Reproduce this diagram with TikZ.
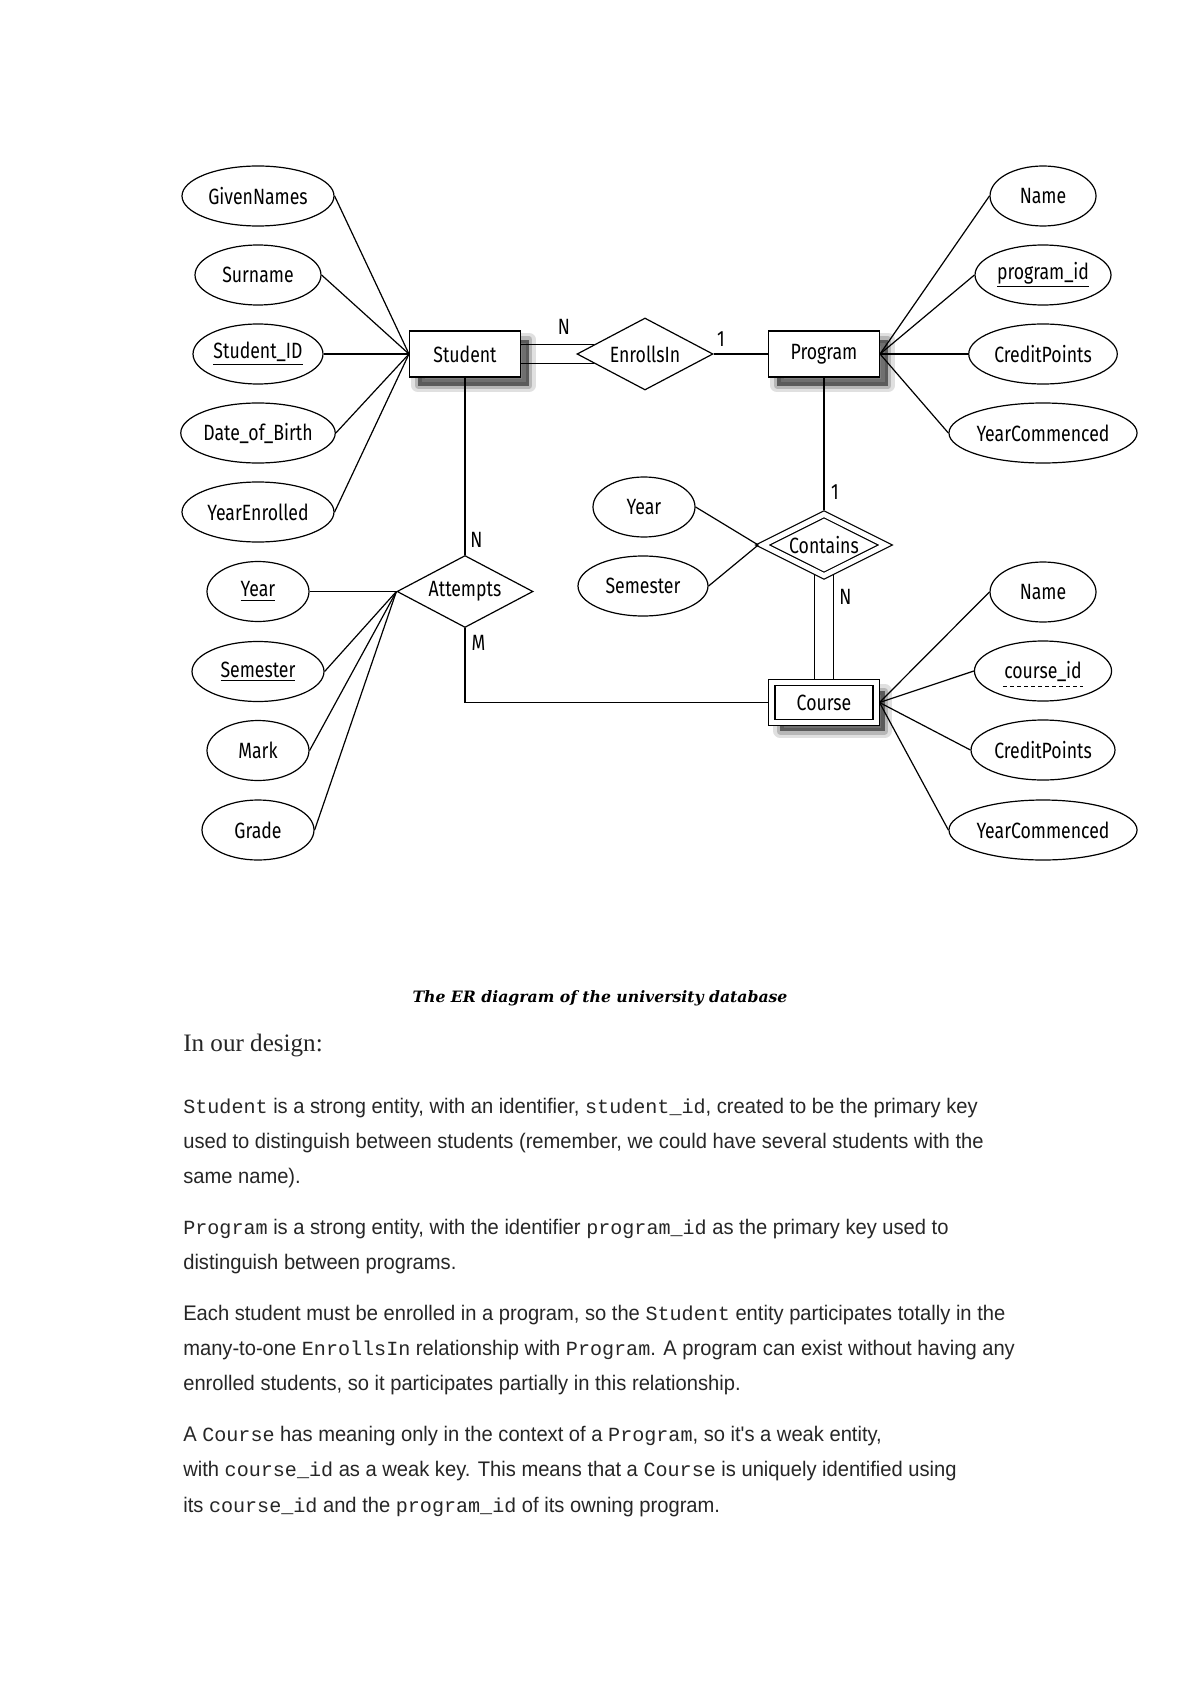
\documentclass[tikz,border=0pt]{standalone}
\usepackage{fontspec}
\usetikzlibrary{shapes.geometric,shadows,calc,positioning}
\newfontfamily\erfont[FakeStretch=0.8]{Fira Sans}
\newfontfamily\bodyfont[FakeStretch=0.955]{Liberation Sans}
\newfontfamily\codefont{Liberation Mono}
\newfontfamily\introfont{Liberation Serif}
\newfontfamily\capfont{DejaVu Serif}
\newcommand\code[1]{{\codefont\fontsize{10}{12}\selectfont #1}}
\newcommand\erfontsize{\erfont\fontsize{11}{13}\selectfont}
\tikzset
{
    erdshadow/.style = {drop shadow={shadow xshift=0.15cm, shadow yshift=-0.15cm, opacity=0.12, fill=black, draw=black, line width=0.24cm, line join=round},
                        drop shadow={shadow xshift=0.15cm, shadow yshift=-0.15cm, opacity=0.18, fill=black, draw=black, line width=0.12cm, line join=round},
                        drop shadow={shadow xshift=0.15cm, shadow yshift=-0.15cm, opacity=0.3, fill=black}},
    entity/.style     = {rectangle, draw, fill=white, minimum width=1.94cm, minimum height=0.805cm, inner sep=0pt, font=\erfontsize, erdshadow},
    weakentity/.style = {entity, double, double distance=2.6pt, minimum width=1.83cm, minimum height=0.70cm, outer sep=1.6pt},
    relation/.style   = {diamond, draw, fill=white, aspect=1.9, minimum width=2.38cm, minimum height=1.26cm, inner sep=0pt, font=\erfontsize},
    weakrelation/.style = {relation, double, double distance=2.5pt, minimum width=2.19cm, minimum height=1.12cm, outer sep=1.6pt},
    attr/.style       = {ellipse, draw, minimum width=#1, minimum height=1.05cm, inner sep=0pt, font=\erfontsize},
    card/.style       = {inner sep=0pt, font=\erfontsize},
    bodytext/.style   = {anchor=base west, inner sep=0pt, text=black!85, font=\bodyfont\fontsize{10.5}{12}\selectfont}
}

\begin{document}
\begin{tikzpicture}[x=0.0175cm, y=-0.0175cm, line width=0.6pt]
		\path[use as bounding box, fill=white] (0,0) rectangle (1200,1696);
		% entities and relationships
		\node (st)	[entity]				at (465,354)		{Student};
		\node (en)	[relation]			at (645,354)		{EnrollsIn};
		\node (pg)	[entity]				at (824,354)		{Program};
		\node (at)	[relation]			at (465,591.5)	{Attempts};
		\node (co)	[weakrelation]	at (824,545)		{Contains};
		\node (cr)	[weakentity]		at (824,702.5)	{Course};
		% attributes of Student and Attempts
		\node (gn)	[attr=2.66cm]		at (258,196)		{GivenNames};
		\node (sn)	[attr=2.205cm]	at (258,275)		{Surname};
		\node (sid)	[attr=2.275cm]	at (258,354)		{\underline{Student\_ID}};
		\node (dob)	[attr=2.66cm]		at (258,433)		{Date\_of\_Birth};
		\node (ye)	[attr=2.66cm]		at (258,512)		{YearEnrolled};
		\node (ayr)	[attr=1.785cm]	at (258,591.5)	{\underline{Year}};
		\node (asm)	[attr=2.31cm]		at (258,671.5)	{\underline{Semester}};
		\node (mk)	[attr=1.785cm]	at (258,750.5)	{Mark};
		\node (gr)	[attr=1.96cm]		at (258,830)		{Grade};
		% attributes of Program and Course
		\node (pn)	[attr=1.855cm]	at (1043,196)		{Name};
		\node (pid)	[attr=2.38cm]		at (1043,275)		{\underline{program\_id}};
		\node (pcp)	[attr=2.6cm]		at (1043,354)		{CreditPoints};
		\node (pyc)	[attr=3.08cm]		at (1043,433)		{YearCommenced};
		\node (cn)	[attr=1.855cm]	at (1043,592)		{Name};
		\node (cid)	[attr=2.4cm]		at (1043,671)		{course\_id};
		\node (ccp)	[attr=2.52cm]		at (1043,750)		{CreditPoints};
		\node (cyc)	[attr=3.08cm]		at (1043,830)		{YearCommenced};
		\draw[dash pattern=on 2pt off 1.5pt] ($(cid.center)+(-40,15.7)$) -- ($(cid.center)+(40,15.7)$);
		% attributes of Contains
		\node (yr)	[attr=1.785cm]	at (644,507)		{Year};
		\node (sm)	[attr=2.275cm]	at (643,586)		{Semester};
		% cardinalities
		\node (c1)	[card]	at (564,327)		{N};
		\node (c2)	[card]	at (721,339)		{1};
		\node (c3)	[card]	at (835,492)		{1};
		\node (c4)	[card]	at (845.5,596.5)	{N};
		\node (c5)	[card]	at (476.5,540)	{N};
		\node (c6)	[card]	at (478.5,643)	{M};

		\foreach \a in {gn,sn,sid,dob,ye}
			\draw (\a.east) -- (st.west);
		\foreach \a in {ayr,asm,mk,gr}
			\draw (\a.east) -- (at.west);
		\foreach \a in {pn,pid,pcp,pyc}
			\draw (\a.west) -- (pg.east);
		\foreach \a in {cn,cid,ccp,cyc}
			\draw (\a.west) -- (cr.east);
		\draw (yr.east) -- (co.west);
		\draw (sm.east) -- (co.west);

		% total participation, drawn as two lines
		\coordinate (en1) at ($(en.west)!0.25!(en.north)$);
		\coordinate (en2) at ($(en.west)!0.25!(en.south)$);
		\draw (st.east |- en1) -- (en1);
		\draw (st.east |- en2) -- (en2);
		\coordinate (co1) at ($(co.south)!0.14!(co.west)$);
		\coordinate (co2) at ($(co.south)!0.14!(co.east)$);
		\draw (co1) -- (co1 |- cr.north);
		\draw (co2) -- (co2 |- cr.north);
		\draw (en) -- (pg);
		\draw (st) -- (at);
		\draw (pg) -- (co);
		\draw (at.south) |- (cr.west);

		% caption and text
		\node (cap)		[anchor=base, inner sep=0pt, font=\capfont\fontsize{7.8}{9}\selectfont\bfseries\itshape] at (600,1002.7) {The ER diagram of the university database};
		\node (intro)	[anchor=base west, inner sep=0pt, text=black!85, font=\introfont\fontsize{12.5}{14}\selectfont] at (182.7,1051.7) {In our design:};
		\node (l1)	[bodytext] at (182.7,1113)		{\code{Student} is a strong entity, with an identifier, \code{student\_id}, created to be the primary key};
		\node (l2)	[bodytext] at (182.7,1148)		{used to distinguish between students (remember, we could have several students with the};
		\node (l3)	[bodytext] at (182.7,1183)		{same name).};
		\node (l4)	[bodytext] at (182.7,1234)		{\code{Program} is a strong entity, with the identifier \code{program\_id} as the primary key used to};
		\node (l5)	[bodytext] at (182.7,1269)		{distinguish between programs.};
		\node (l6)	[bodytext] at (182.7,1320.5)	{Each student must be enrolled in a program, so the \code{Student} entity participates totally in the};
		\node (l7)	[bodytext] at (182.7,1355)		{many-to-one \code{EnrollsIn} relationship with \code{Program}. A program can exist without having any};
		\node (l8)	[bodytext] at (182.7,1390.5)	{enrolled students, so it participates partially in this relationship.};
		\node (l9)	[bodytext] at (182.7,1441.5)	{A \code{Course} has meaning only in the context of a \code{Program}, so it's a weak entity,};
		\node (l10)	[bodytext] at (182.7,1476.5)	{with \code{course\_id} as a weak key. This means that a \code{Course} is uniquely identified using};
		\node (l11)	[bodytext] at (182.7,1512)		{its \code{course\_id} and the \code{program\_id} of its owning program.};
	\end{tikzpicture}
\end{document}
